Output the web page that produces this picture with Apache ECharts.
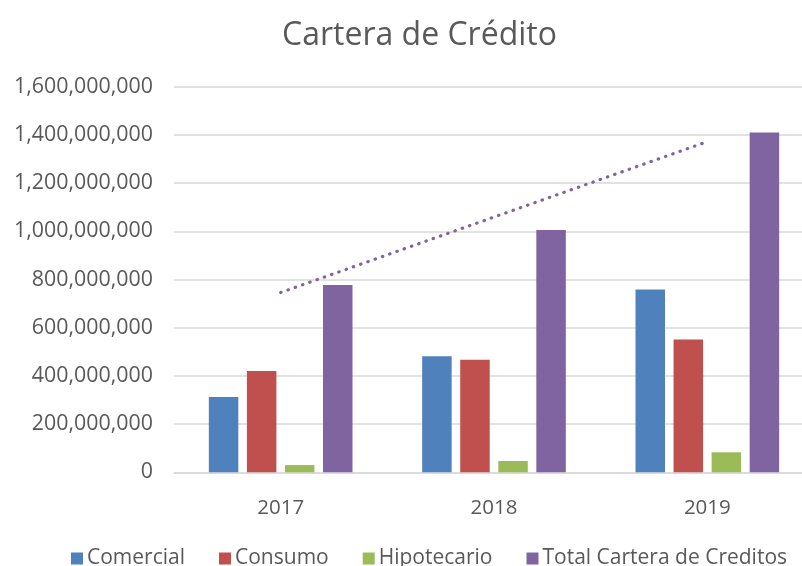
<!DOCTYPE html>
<html>
<head>
<meta charset="utf-8">
<script src="https://cdn.jsdelivr.net/npm/echarts@6/dist/echarts.min.js"></script>
<style>
html, body { margin: 0; padding: 0; background: #fff; }
#chart { width: 802px; height: 566px; }
</style>
</head>
<body>
<div id="chart"></div>
<script>
var years = ['2017', '2018', '2019'];
var comercial = [312000000, 482000000, 759000000];
var consumo = [420000000, 467000000, 551000000];
var hipotecario = [30000000, 47000000, 83000000];
var totalCartera = [777000000, 1005000000, 1410000000];
// linear trend of the total
var tendencia = [746000000, 1059000000, 1372000000];

var seriesNames = ['Comercial', 'Consumo', 'Hipotecario', 'Total Cartera de Creditos'];
var colors = ['#4F81BD', '#C0504D', '#9BBB59', '#8064A2'];
var fontName = '"Open Sans", "Noto Sans", sans-serif';

function drawBarGraph(id){
    var chart = echarts.init(document.getElementById(id));
    var values = [comercial, consumo, hipotecario, totalCartera];
    var series = [];
    for(var i = 0; i < values.length; i++){
        series.push({
            name: seriesNames[i],
            type: 'bar',
            data: values[i],
            barWidth: 29.5,
            barGap: '29%',
            itemStyle: { color: colors[i] },
            emphasis: { disabled: true }
        });
    }
    series.push({
        name: 'Tendencia',
        type: 'line',
        data: tendencia,
        symbol: 'none',
        silent: true,
        z: 5,
        lineStyle: {
            color: '#8064A2',
            width: 3.2,
            type: [0.5, 7.2],
            cap: 'round'
        }
    });

    chart.setOption({
        animation: false,
        textStyle: { fontFamily: fontName },
        title: {
            text: 'Cartera de Crédito',
            left: 277,
            top: 15,
            textStyle: {
                fontFamily: fontName,
                fontSize: 32,
                fontWeight: 'normal',
                color: '#595959'
            }
        },
        legend: {
            data: seriesNames,
            left: 66,
            top: 543,
            itemWidth: 12,
            itemHeight: 12,
            itemGap: 34,
            icon: 'rect',
            textStyle: {
                fontFamily: fontName,
                fontSize: 21,
                color: '#595959',
                padding: [0, 0, 0, -1]
            }
        },
        grid: {
            left: 174,
            width: 640,
            top: 86.7,
            height: 385.6,
            containLabel: false,
            outerBoundsMode: 'none'
        },
        xAxis: {
            type: 'category',
            data: years,
            axisTick: { show: false },
            axisLine: { lineStyle: { color: '#D9D9D9', width: 1.5 } },
            axisLabel: {
                fontFamily: fontName,
                fontSize: 20.5,
                color: '#595959',
                margin: 25
            }
        },
        yAxis: {
            type: 'value',
            min: 0,
            max: 1600000000,
            interval: 200000000,
            axisLine: { show: false },
            axisTick: { show: false },
            splitLine: { lineStyle: { color: '#D9D9D9', width: 1.5 } },
            axisLabel: {
                fontFamily: fontName,
                fontSize: 21.4,
                color: '#595959',
                margin: 21,
                formatter: function(v){ return v.toLocaleString('en-US'); }
            }
        },
        series: series
    });
    window.onresize = function(){
        chart.resize();
    }
}

drawBarGraph('chart');
</script>
</body>
</html>
